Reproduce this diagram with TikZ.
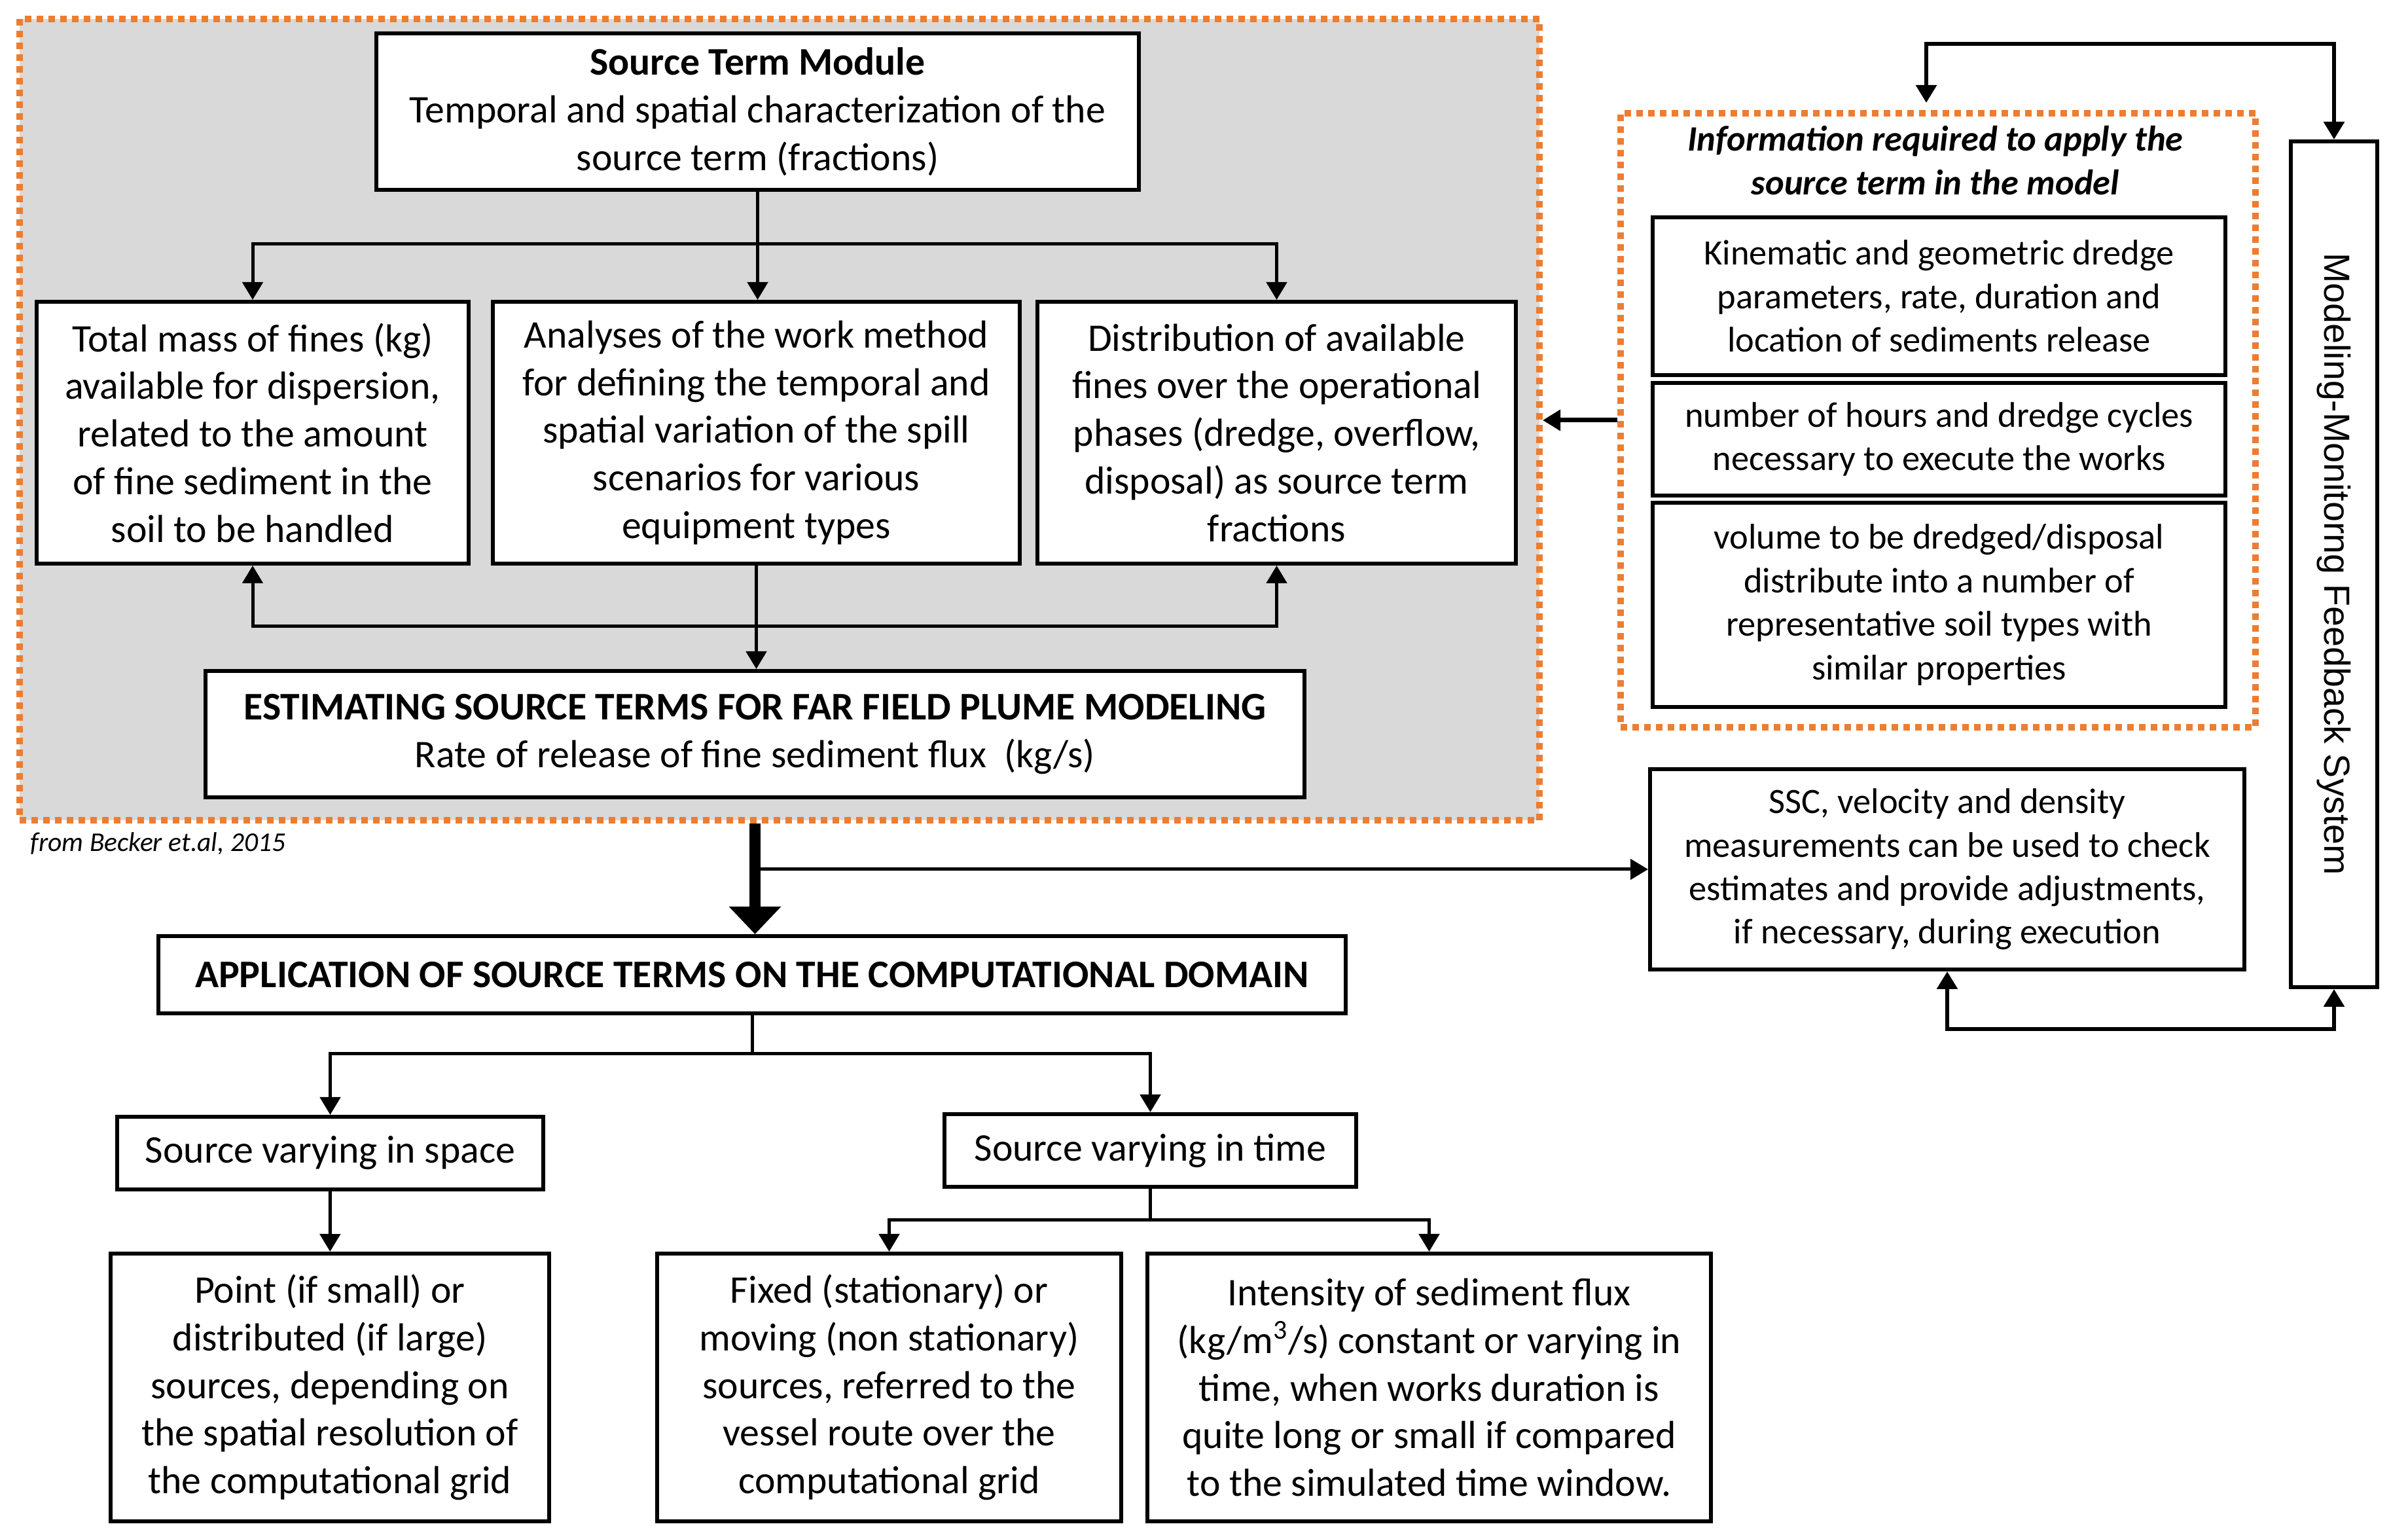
\documentclass[tikz,border=0pt]{standalone}
\usepackage{fontspec}
\usepackage{graphicx}
\setmainfont{Carlito}
\newfontfamily\arialfont{Liberation Sans}
\usetikzlibrary{arrows.meta}
\definecolor{orng}{HTML}{ED7D31}
\definecolor{lgray}{HTML}{D9D9D9}
\newcommand\txtA{\fontsize{17}{20.7}\selectfont}
\newcommand\txtB{\fontsize{15.5}{18.9}\selectfont}
\tikzset{
	box/.style={draw, line width=0.06cm, fill=white, inner sep=0pt, align=center, font=\txtA},
	sbox/.style={box, font=\txtB},
	frame/.style={draw=orng, line width=0.1cm, dash pattern=on 0.1cm off 0.08cm, inner sep=0pt},
	arr/.style={line width=0.05cm, -{Triangle[length=0.27cm,width=0.31cm]}},
	arrboth/.style={line width=0.06cm, {Triangle[length=0.27cm,width=0.31cm]}-{Triangle[length=0.27cm,width=0.31cm]}},
	fatarr/.style={line width=0.17cm, -{Triangle[length=0.42cm,width=0.77cm]}}
}

\begin{document}
\begin{tikzpicture}
	\useasboundingbox (0,0) rectangle (36.79,-23.51);
	\node[frame, fill=lgray, minimum width=23.22cm, minimum height=12.24cm] (grp) at (11.91,-6.41) {};
	\node[frame, minimum width=9.70cm, minimum height=9.38cm] (inf) at (29.61,-6.42) {};
	\node[box, minimum width=11.65cm, minimum height=2.39cm] (stm) at (11.575,-1.705)
		{\textbf{Source Term Module}\\Temporal and spatial characterization of the\\source term (fractions)};
	\node[box, minimum width=6.60cm, minimum height=4.00cm] (mass) at (3.86,-6.61)
		{Total mass of fines (kg)\\available for dispersion,\\related to the amount\\of fine sediment in the\\soil to be handled};
	\node[box, minimum width=8.05cm, minimum height=4.00cm] (meth) at (11.555,-6.61)
		{Analyses of the work method\\for defining the temporal and\\spatial variation of the spill\\scenarios for various\\equipment types};
	\node[box, minimum width=7.31cm, minimum height=4.00cm] (dist) at (19.505,-6.61)
		{Distribution of available\\fines over the operational\\phases (dredge, overflow,\\disposal) as source term\\fractions};
	\node[box, minimum width=16.79cm, minimum height=1.93cm] (est) at (11.535,-11.215)
		{\textbf{ESTIMATING SOURCE TERMS FOR FAR FIELD PLUME MODELING}\\Rate of release of fine sediment flux~ (kg/s)};
	\node[anchor=base west, inner sep=0pt, font=\fontsize{11.8}{14}\selectfont\itshape] (src) at (0.46,-13.01) {from Becker et.al, 2015};
	\node[align=center, inner sep=0pt, font=\txtB\bfseries\itshape] (ttl) at (29.57,-2.45)
		{Information required to apply the\\source term in the model};
	\node[sbox, minimum width=8.75cm, minimum height=2.41cm] (ib1) at (29.625,-4.525)
		{Kinematic and geometric dredge\\parameters, rate, duration and\\location of sediments release};
	\node[sbox, minimum width=8.75cm, minimum height=1.72cm] (ib2) at (29.625,-6.71)
		{number of hours and dredge cycles\\necessary to execute the works};
	\node[sbox, minimum width=8.75cm, minimum height=3.12cm] (ib3) at (29.625,-9.24)
		{volume to be dredged/disposal\\distribute into a number of\\representative soil types with\\similar properties};
	\node[box, minimum width=1.32cm, minimum height=12.92cm, font=\arialfont\fontsize{15.8}{19}\selectfont] (fb) at (35.66,-8.62)
		{\rotatebox{-90}{Modeling-Monitorng Feedback System}};
	\node[sbox, minimum width=9.08cm, minimum height=3.06cm] (ssc) at (29.75,-13.28)
		{SSC, velocity and density\\measurements can be used to check\\estimates and provide adjustments,\\if necessary, during execution};
	\node[box, minimum width=18.14cm, minimum height=1.18cm] (app) at (11.49,-14.89)
		{\textbf{APPLICATION OF SOURCE TERMS ON THE COMPUTATIONAL DOMAIN}};
	\node[box, minimum width=6.51cm, minimum height=1.11cm] (spc) at (5.045,-17.615) {Source varying in space};
	\node[box, minimum width=6.29cm, minimum height=1.11cm] (tim) at (17.575,-17.575) {Source varying in time};
	\node[box, minimum width=6.70cm, minimum height=4.09cm] (pnt) at (5.04,-21.195)
		{Point (if small) or\\distributed (if large)\\sources, depending on\\the spatial resolution of\\the computational grid};
	\node[box, minimum width=7.09cm, minimum height=4.09cm] (fix) at (13.585,-21.195)
		{Fixed (stationary) or\\moving (non stationary)\\sources, referred to the\\vessel route over the\\computational grid};
	\node[box, minimum width=8.61cm, minimum height=4.09cm] (ints) at (21.835,-21.195)
		{Intensity of sediment flux\\(kg/m\textsuperscript{3}/s) constant or varying in\\time, when works duration is\\quite long or small if compared\\to the simulated time window.};
	\coordinate (jt) at (11.575,-3.73);
	\coordinate (jb) at (11.555,-9.57);
	\coordinate (ja) at (11.49,-16.10);
	\coordinate (jm) at (17.575,-18.64);
	\coordinate (ti) at (29.43,-1.57);
	\coordinate (tt) at (35.66,-0.67);
	\coordinate (bt) at (35.66,-15.72);
	\draw[arr] (stm.south) -- (stm.south |- meth.north);
	\draw[arr] (meth.south) -- (meth.south |- est.north);
	\foreach \J in {jt,jb}
		{\draw[arr] (\J) -| (mass); \draw[arr] (\J) -| (dist);}
	\draw[fatarr] (est.south |- grp.south) -- (est.south |- app.north);
	\draw[arr] (est.south |- ssc.west) -- (ssc.west);
	\draw[line width=0.05cm] (app.south) -- (ja);
	\draw[arr] (ja) -| (spc);
	\draw[arr] (ja) -| (tim);
	\draw[arr] (spc) -- (pnt);
	\draw[line width=0.05cm] (tim.south) -- (jm);
	\draw[arr] (jm) -| (fix);
	\draw[arr] (jm) -| (ints);
	\draw[arr, line width=0.07cm] (inf.west) -- (inf.west -| grp.east);
	\draw[arrboth] (ti) |- (tt) -- (fb.north);
	\draw[arrboth] (ssc.south) |- (bt) -- (fb.south);
\end{tikzpicture}
\end{document}
